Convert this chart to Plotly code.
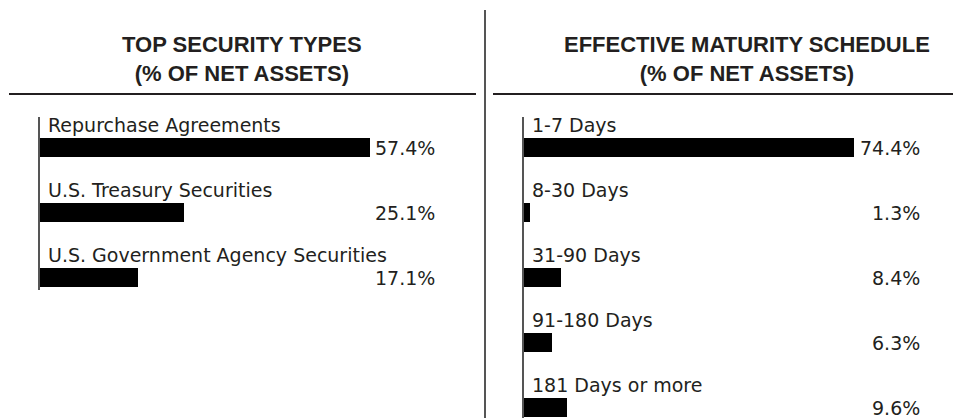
import plotly.graph_objects as go

W, H = 953, 418

# ---- data ----
sec_types = ["Repurchase Agreements", "U.S. Treasury Securities", "U.S. Government Agency Securities"]
sec_values = [57.4, 25.1, 17.1]

mat_buckets = ["1-7 Days", "8-30 Days", "31-90 Days", "91-180 Days", "181 Days or more"]
mat_values = [74.4, 1.3, 8.4, 6.3, 9.6]

left_title = "TOP SECURITY TYPES<br>(% OF NET ASSETS)"
right_title = "EFFECTIVE MATURITY SCHEDULE<br>(% OF NET ASSETS)"

TXT = "#231F20"
BODY_FONT = "DejaVu Sans"
TITLE_FONT = "Liberation Sans"


def px(x):
    return x / W


def py(y):
    return 1 - y / H


fig = go.Figure()

fig.add_trace(go.Bar(x=sec_values, y=sec_types, orientation="h", width=19 / 65,
                     marker=dict(color="#000000", line=dict(width=0)),
                     xaxis="x", yaxis="y", hoverinfo="skip", showlegend=False))
fig.add_trace(go.Bar(x=mat_values, y=mat_buckets, orientation="h", width=19 / 65,
                     marker=dict(color="#000000", line=dict(width=0)),
                     xaxis="x2", yaxis="y2", hoverinfo="skip", showlegend=False))

axis_common_x = dict(showgrid=False, zeroline=False, showticklabels=False, showline=False, ticks="")
axis_common_y = dict(showgrid=False, zeroline=False, showticklabels=False, ticks="",
                     showline=True, linecolor="#555555", linewidth=1.5, type="category")

fig.update_layout(
    width=W, height=H,
    margin=dict(l=0, r=0, t=0, b=0),
    paper_bgcolor="white", plot_bgcolor="rgba(0,0,0,0)",
    bargap=0,
    xaxis=dict(domain=[px(40), px(437)], range=[0, 397 / 5.749], anchor="y", **axis_common_x),
    yaxis=dict(domain=[py(290), py(117)], range=[2 + 12.5 / 65, -30.5 / 65], anchor="x",
               categoryorder="array", categoryarray=sec_types, **axis_common_y),
    xaxis2=dict(domain=[px(524), px(922)], range=[0, 398 / 4.435], anchor="y2", **axis_common_x),
    yaxis2=dict(domain=[0, py(117)], range=[4 + 10.5 / 65, -30.5 / 65], anchor="x2",
                categoryorder="array", categoryarray=mat_buckets, **axis_common_y),
)

annotations = []
# titles
for title, cx in [(left_title, 242), (right_title, 747)]:
    annotations.append(dict(text=title, xref="paper", yref="paper", x=px(cx), y=py(59),
                            xanchor="center", yanchor="middle", showarrow=False,
                            font=dict(family=TITLE_FONT, size=22, color=TXT, weight="bold")))

body = dict(family=BODY_FONT, size=19, color=TXT)
for cats, vals, xa, ya in [(sec_types, sec_values, "x", "y"), (mat_buckets, mat_values, "x2", "y2")]:
    for c, v in zip(cats, vals):
        annotations.append(dict(text=c, xref=f"{xa} domain", yref=ya, x=0, y=c,
                                xanchor="left", yanchor="bottom", xshift=6, yshift=10,
                                showarrow=False, font=body))
        annotations.append(dict(text=f"{v:.1f}%", xref=f"{xa} domain", yref=ya, x=1, y=c,
                                xanchor="right", yanchor="middle", yshift=0,
                                showarrow=False, font=body))

fig.update_layout(annotations=annotations)

shapes = [
    dict(type="line", xref="paper", yref="paper", x0=px(485), x1=px(485), y0=py(10), y1=py(430),
         line=dict(color="#555555", width=2)),
    dict(type="line", xref="paper", yref="paper", x0=px(9), x1=px(476), y0=py(94), y1=py(94),
         line=dict(color=TXT, width=2)),
    dict(type="line", xref="paper", yref="paper", x0=px(493), x1=px(970), y0=py(94), y1=py(94),
         line=dict(color=TXT, width=2)),
]
fig.update_layout(shapes=shapes)

fig.write_html(
    "out.html",
    config={"displayModeBar": False},
    post_script="document.body.style.margin='0';document.body.style.overflow='hidden';",
)
